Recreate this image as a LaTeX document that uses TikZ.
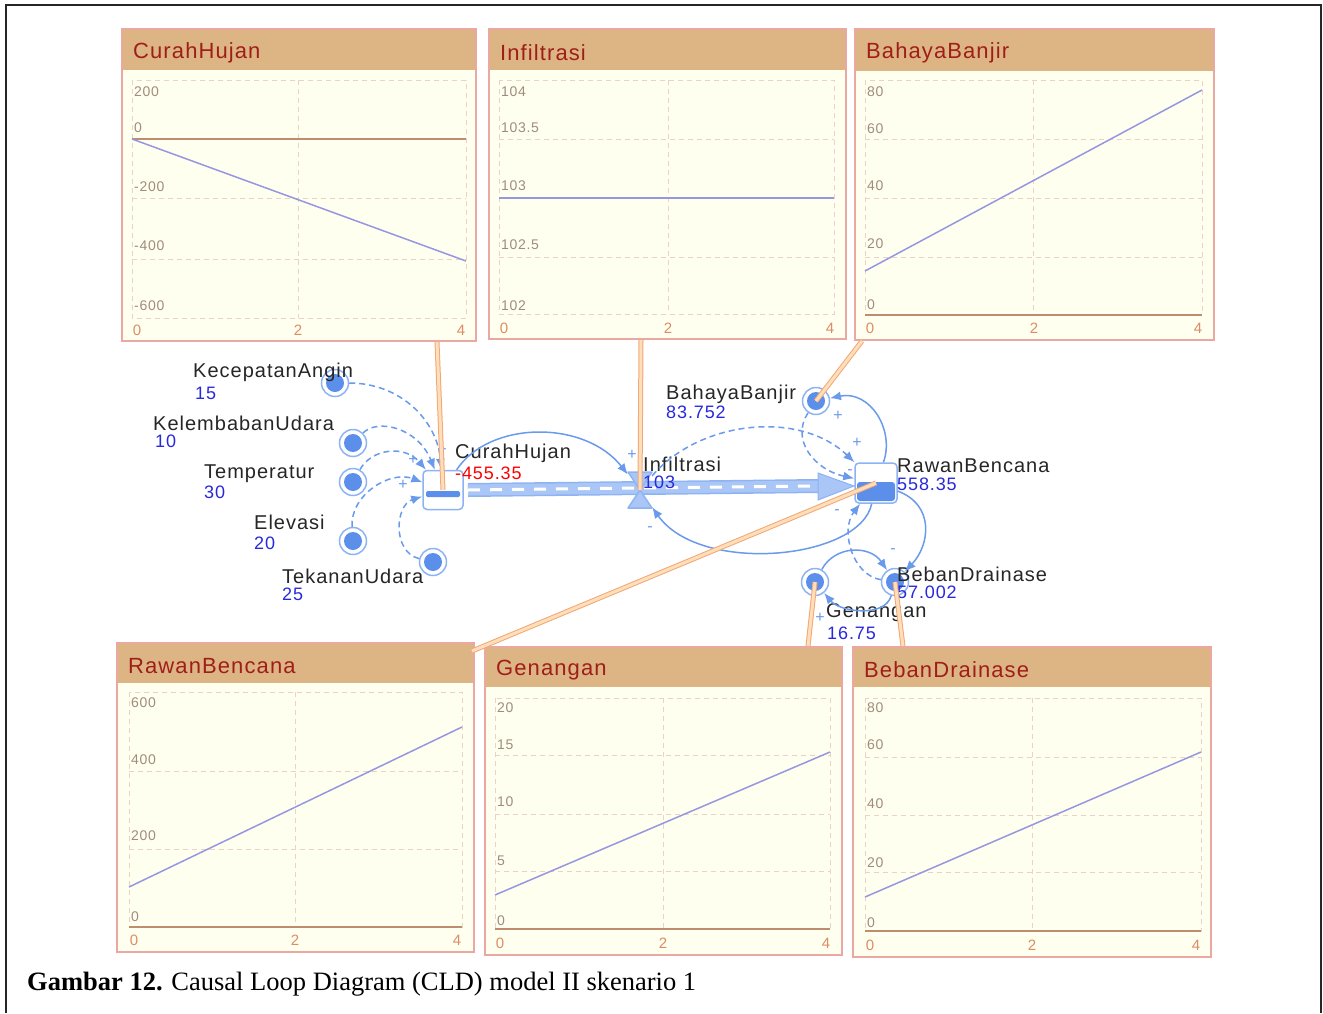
\documentclass[tikz,border=0pt]{standalone}
\usepackage{fontspec}
\setmainfont{Liberation Serif}
\newfontfamily\diagfont[LetterSpace=5]{Liberation Sans}
\usetikzlibrary{arrows.meta}
\definecolor{panelborder}{RGB}{235,168,160}
\definecolor{panelhead}{RGB}{221,181,132}
\definecolor{paneltitle}{RGB}{160,30,25}
\definecolor{panelbg}{RGB}{255,255,240}
\definecolor{gridcol}{RGB}{236,210,198}
\definecolor{axiscol}{RGB}{190,140,110}
\definecolor{ylabcol}{RGB}{160,140,125}
\definecolor{xlabcol}{RGB}{220,140,100}
\definecolor{plotcol}{RGB}{150,150,225}
\definecolor{linkblue}{RGB}{106,154,235}
\definecolor{ringblue}{RGB}{141,179,242}
\definecolor{dotblue}{RGB}{91,143,234}
\definecolor{pipefill}{RGB}{169,198,247}
\definecolor{pinedge}{RGB}{240,168,120}
\definecolor{pinfill}{RGB}{255,222,185}
\definecolor{valblue}{RGB}{40,40,220}

% frame of one chart: left, top, right, bottom, header bottom, title, name
\newcommand{\chartframe}[7]{%
  \fill[panelbg] (#1,#2) rectangle (#3,#4);
  \fill[panelhead] (#1,#2) rectangle (#3,#5);
  \draw[panelborder, line width=1.5pt] (#1,#2) rectangle (#3,#4);
  \node[charttitle] (#7) at ({#1+11},{(#2+#5)/2+3}) {#6};}

\begin{document}
\begin{tikzpicture}[x=1pt, y=-1pt,
  varnode/.style={circle, draw=ringblue, line width=1.5pt, fill=white, minimum size=27pt, inner sep=0pt,
    path picture={\fill[dotblue] (path picture bounding box.center) circle (9pt);}},
  stockbox/.style={rectangle, rounded corners=4pt, draw=ringblue, line width=1.5pt, fill=white,
    minimum width=40pt, minimum height=39pt},
  vname/.style={font=\diagfont\fontsize{20}{22}\selectfont, text=black!85, anchor=west, inner sep=0pt},
  vval/.style={font=\diagfont\fontsize{18}{20}\selectfont, text=valblue, anchor=west, inner sep=0pt},
  polar/.style={font=\diagfont\fontsize{16}{16}\selectfont, text=linkblue, inner sep=0pt},
  linkarr/.style={draw=linkblue, line width=1.5pt, -{Latex[length=11pt,width=9pt]}},
  linkdash/.style={linkarr, dash pattern=on 6pt off 4pt},
  pinline/.style={draw=pinedge, double=pinfill, line width=1pt, double distance=3pt},
  charttitle/.style={font=\diagfont\fontsize{22}{24}\selectfont, text=paneltitle, anchor=west, inner sep=0pt},
  gridline/.style={draw=gridcol, line width=1pt, dash pattern=on 5pt off 4pt},
  axisline/.style={draw=axiscol, line width=1.5pt},
  plotline/.style={draw=plotcol, line width=1.5pt},
  ylab/.style={font=\diagfont\fontsize{14}{14}\selectfont, text=ylabcol, anchor=west, inner sep=0pt},
  xlab/.style={font=\diagfont\fontsize{15}{15}\selectfont, text=xlabcol, inner sep=0pt}]

\useasboundingbox (0,0) rectangle (1323,1013);
\draw[line width=2pt, black!85] (6,1013) -- (6,5) -- (1321,5) -- (1321,1013);

% charts, top row
\chartframe{122}{29}{476}{341}{70}{CurahHujan}{chT}
\draw[gridline] (132,80) rectangle (466,318);
\foreach \g in {198,259} \draw[gridline] (132,\g) -- (466,\g);
\draw[gridline] (298,80) -- (298,318);
\draw[axisline] (132,139) -- (466,139);
\draw[plotline] (132,139) -- (466,261);
\foreach \lab/\yy [count=\k] in {200/92,0/128,-200/187,-400/246,-600/306}
  \node[ylab] (chy\k) at (134,\yy) {\lab};
\foreach \lab/\xx [count=\k] in {0/137,2/298,4/461}
  \node[xlab] (chx\k) at (\xx,330) {\lab};

\chartframe{489}{29}{846}{339}{70}{Infiltrasi}{infT}
\draw[gridline] (499,80) rectangle (834,314);
\foreach \g in {139,257} \draw[gridline] (499,\g) -- (834,\g);
\draw[gridline] (668,80) -- (668,314);
\draw[plotline] (499,198) -- (834,198);
\foreach \lab/\yy [count=\k] in {104/92,103.5/128,103/186,102.5/245,102/306}
  \node[ylab] (infy\k) at (501,\yy) {\lab};
\foreach \lab/\xx [count=\k] in {0/504,2/668,4/830}
  \node[xlab] (infx\k) at (\xx,328) {\lab};

\chartframe{855}{29}{1214}{340}{71}{BahayaBanjir}{bbT}
\draw[gridline] (865,80) rectangle (1202,315);
\foreach \g in {139,198,257} \draw[gridline] (865,\g) -- (1202,\g);
\draw[gridline] (1033,80) -- (1033,315);
\draw[axisline] (865,315) -- (1202,315);
\draw[plotline] (865,271) -- (1202,90);
\foreach \lab/\yy [count=\k] in {80/92,60/129,40/186,20/244,0/305}
  \node[ylab] (bby\k) at (867,\yy) {\lab};
\foreach \lab/\xx [count=\k] in {0/870,2/1034,4/1198}
  \node[xlab] (bbx\k) at (\xx,328) {\lab};

% charts, bottom row
\chartframe{117}{643}{474}{952}{683}{RawanBencana}{rbT}
\draw[gridline] (129,692) rectangle (462,927);
\foreach \g in {771,849} \draw[gridline] (129,\g) -- (462,\g);
\draw[gridline] (295,692) -- (295,927);
\draw[axisline] (129,927) -- (462,927);
\draw[plotline] (129,887) -- (462,727);
\foreach \lab/\yy [count=\k] in {600/703,400/760,200/836,0/917}
  \node[ylab] (rby\k) at (131,\yy) {\lab};
\foreach \lab/\xx [count=\k] in {0/134,2/295,4/457}
  \node[xlab] (rbx\k) at (\xx,940) {\lab};

\chartframe{485}{647}{842}{955}{687}{Genangan}{genT}
\draw[gridline] (495,698) rectangle (830,929);
\foreach \g in {755,814,871} \draw[gridline] (495,\g) -- (830,\g);
\draw[gridline] (663,698) -- (663,929);
\draw[axisline] (495,929) -- (830,929);
\draw[plotline] (495,895) -- (830,752);
\foreach \lab/\yy [count=\k] in {20/708,15/745,10/802,5/861,0/921}
  \node[ylab] (geny\k) at (497,\yy) {\lab};
\foreach \lab/\xx [count=\k] in {0/500,2/663,4/826}
  \node[xlab] (genx\k) at (\xx,943) {\lab};

\chartframe{853}{647}{1211}{957}{687}{BebanDrainase}{bdT}
\draw[gridline] (865,698) rectangle (1201,931);
\foreach \g in {757,815,872} \draw[gridline] (865,\g) -- (1201,\g);
\draw[gridline] (1032,698) -- (1032,931);
\draw[axisline] (865,931) -- (1201,931);
\draw[plotline] (865,897) -- (1201,752);
\foreach \lab/\yy [count=\k] in {80/708,60/745,40/804,20/863,0/923}
  \node[ylab] (bdy\k) at (867,\yy) {\lab};
\foreach \lab/\xx [count=\k] in {0/870,2/1032,4/1196}
  \node[xlab] (bdx\k) at (\xx,945) {\lab};

% stocks and variables
\node[varnode] (kec) at (335,383) {};
\node[varnode] (kel) at (353,443) {};
\node[varnode] (tem) at (353,482) {};
\node[varnode] (ele) at (353,541) {};
\node[varnode] (tek) at (433,562) {};
\node[varnode] (bb) at (816,401) {};
\node[varnode] (gen) at (815,582) {};
\node[varnode] (bd) at (895,582) {};

% flow pipe
\coordinate (pipestart) at (468,490);
\coordinate (pipeend) at (818,486);
\draw[ringblue, line width=14pt] (pipestart) -- (pipeend);
\draw[pipefill, line width=11pt] (pipestart) -- (pipeend);
\draw[white, line width=3pt, dash pattern=on 12pt off 10pt] (pipestart) -- (pipeend);
\filldraw[fill=pipefill, draw=ringblue, line width=1pt] (818,473) -- (854,486) -- (818,500) -- cycle;

\node[stockbox] (ch) at (443,490) {};
\fill[dotblue, rounded corners=1.5pt] (426,491) rectangle (460,497);
\node[stockbox, minimum width=42pt, minimum height=40pt] (rb) at (876,483) {};
\fill[dotblue, rounded corners=3pt] (857,482) rectangle (895,501);

\filldraw[fill=pipefill, draw=ringblue, line width=1.5pt, line join=round]
  (628,472) -- (652,472) -- (628,508) -- (652,508) -- cycle;
\node[minimum width=24pt, minimum height=36pt, inner sep=0pt] (inf) at (640,490) {};

% names and values
\node[vname] (kecn) at (193,372) {KecepatanAngin};
\node[vval] (kecv) at (195,393) {15};
\node[vname] (keln) at (153,423) {KelembabanUdara};
\node[vval] (kelv) at (155,441) {10};
\node[vname] (temn) at (204,474) {Temperatur};
\node[vval] (temv) at (204,492) {30};
\node[vname] (elen) at (254,522) {Elevasi};
\node[vval] (elev) at (254,543) {20};
\node[vname] (tekn) at (282,576) {TekananUdara};
\node[vval] (tekv) at (282,594) {25};
\node[vname] (chn) at (455,453) {CurahHujan};
\node[vval, text=red] (chv) at (455,473) {-455.35};
\node[vname] (infn) at (643,464) {Infiltrasi};
\node[vval] (infv) at (643,482) {103};
\node[vname] (bbn) at (666,394) {BahayaBanjir};
\node[vval] (bbv) at (666,412) {83.752};
\node[vname] (rbn) at (897,466) {RawanBencana};
\node[vval] (rbv) at (897,484) {558.35};
\node[vname] (bdn) at (897,574) {BebanDrainase};
\node[vval] (bdv) at (897,592) {57.002};
\node[vname] (genn) at (826,613) {Genangan};
\node[vval] (genv) at (827,633) {16.75};

% links
\draw[linkdash] (kec) .. controls (400,383) and (437,420) .. (ch);
\draw[linkdash] (kel) .. controls (378,418) and (418,428) .. (ch);
\draw[linkdash] (tem) .. controls (372,448) and (405,445) .. (ch);
\draw[linkdash] (ele) .. controls (350,495) and (390,470) .. (ch);
\draw[linkdash] (tek) .. controls (392,552) and (395,505) .. (ch);
\draw[linkarr] (ch) .. controls (490,420) and (585,420) .. (inf);
\draw[linkarr] (rb) .. controls (860,560) and (700,575) .. (inf);
\draw[linkdash] (bd) .. controls (852,575) and (840,530) .. (rb);
\draw[linkarr] (gen) .. controls (835,545) and (870,545) .. (bd);
\draw[linkarr] (rb) .. controls (935,505) and (930,545) .. (bd);
\draw[linkarr] (bd) .. controls (885,618) and (840,612) .. (gen);
\draw[linkarr] (rb) .. controls (895,430) and (870,390) .. (bb);
\draw[linkdash] (bb) .. controls (790,440) and (815,470) .. (rb);
\draw[linkdash] (inf) .. controls (700,420) and (800,410) .. (rb);

\node[polar] (p1) at (442,450) {+};
\node[polar] (p2) at (413,460) {+};
\node[polar] (p3) at (403,485) {+};
\node[polar] (p4) at (632,455) {+};
\node[polar] (p5) at (650,529) {-};
\node[polar] (p6) at (837,512) {-};
\node[polar] (p7) at (893,551) {-};
\node[polar] (p8) at (820,618) {+};
\node[polar] (p9) at (838,416) {+};
\node[polar] (p10) at (850,472) {-};
\node[polar] (p11) at (857,443) {+};

% chart pins
\coordinate (chpin) at (437,342);
\coordinate (infpin) at (641,340);
\coordinate (bbpin) at (862,341);
\coordinate (rbpin) at (472,651);
\coordinate (genpin) at (808,646);
\coordinate (bdpin) at (903,646);
\draw[pinline] (chpin) -- (ch.center);
\draw[pinline] (infpin) -- (inf.center);
\draw[pinline] (bbpin) -- (bb.center);
\draw[pinline] (rbpin) -- (rb.center);
\draw[pinline] (genpin) -- (gen.center);
\draw[pinline] (bdpin) -- (bd.center);

\node[anchor=base west, font=\fontsize{26.5}{28}\selectfont, inner sep=0pt] (caption) at (27,990)
  {\textbf{Gambar 12.} Causal Loop Diagram (CLD) model II skenario 1};
\end{tikzpicture}
\end{document}
